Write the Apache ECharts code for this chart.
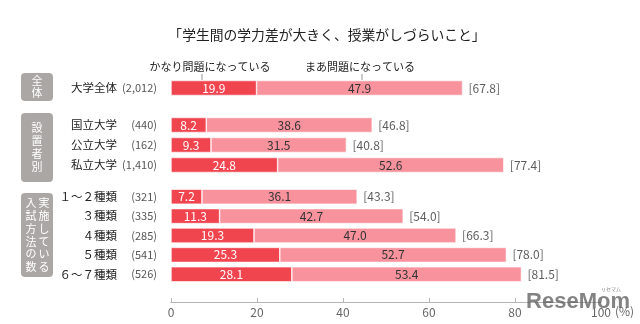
<!DOCTYPE html>
<html>
<head>
<meta charset="utf-8">
<script src="https://cdn.jsdelivr.net/npm/echarts@6/dist/echarts.min.js"></script>
<style>
  html, body { margin: 0; padding: 0; background: #fff; }
  #chart { width: 640px; height: 324px; }
</style>
</head>
<body>
<div id="chart"></div>
<script>
// Survey answers: share of faculties reporting the problem, by group
const titleText = '「学生間の学力差が大きく、授業がしづらいこと」';
const seriesNames = ['かなり問題になっている', 'まあ問題になっている'];

// Overall
const allNames = ['大学全体'];
const allCounts = ['2,012'];
const allStrong = [19.9];
const allSome = [47.9];
const allTotal = [67.8];

// By founder type
const founderNames = ['国立大学', '公立大学', '私立大学'];
const founderCounts = ['440', '162', '1,410'];
const founderStrong = [8.2, 9.3, 24.8];
const founderSome = [38.6, 31.5, 52.6];
const founderTotal = [46.8, 40.8, 77.4];

// By number of admission methods used
const methodNames = ['１～２種類', '３種類', '４種類', '５種類', '６～７種類'];
const methodCounts = ['321', '335', '285', '541', '526'];
const methodStrong = [7.2, 11.3, 19.3, 25.3, 28.1];
const methodSome = [36.1, 42.7, 47.0, 52.7, 53.4];
const methodTotal = [43.3, 54.0, 66.3, 78.0, 81.5];

const xTicks = [0, 20, 40, 60, 80, 100];

const groups = [
  { names: allNames, counts: allCounts, strong: allStrong, some: allSome, total: allTotal, top: 78, height: 20 },
  { names: founderNames, counts: founderCounts, strong: founderStrong, some: founderSome, total: founderTotal, top: 115, height: 60 },
  { names: methodNames, counts: methodCounts, strong: methodStrong, some: methodSome, total: methodTotal, top: 187, height: 97 }
];

const FONT = '"Noto Sans CJK JP", "Noto Sans", sans-serif';
const RED = '#f0444f';
const PINK = '#f8939e';

const grid = [], xAxis = [], yAxis = [], series = [];
groups.forEach((g, i) => {
  const last = i === groups.length - 1;
  grid.push({ left: 171, width: 430, top: g.top, height: g.height });
  xAxis.push({
    gridIndex: i, type: 'value', min: 0, max: 100, interval: 20,
    show: last, offset: last ? 18 : 0,
    name: last ? '(%)' : '', nameLocation: 'end', nameGap: 10,
    nameTextStyle: { color: '#666', fontSize: 12, fontFamily: FONT, verticalAlign: 'top', padding: [3, 0, 0, 0] },
    axisLine: { show: true, lineStyle: { color: '#b5b5b5', width: 1 } },
    axisTick: { show: true, inside: true, length: 4, lineStyle: { color: '#b5b5b5' } },
    axisLabel: { color: '#666', fontSize: 12, fontFamily: FONT, margin: 4,
                 customValues: xTicks },
    splitLine: { show: false }
  });
  yAxis.push({
    gridIndex: i, type: 'category', inverse: true, data: g.names,
    axisLine: { show: false }, axisTick: { show: false },
    axisLabel: {
      margin: 14, fontFamily: FONT,
      formatter: (v, idx) => '{n|' + v + '}{c|(' + g.counts[idx] + ')}',
      rich: {
        n: { fontSize: 11.5, color: '#222', fontFamily: FONT },
        c: { fontSize: 11, color: '#555', fontFamily: FONT, width: 40, align: 'right' }
      }
    }
  });
  const stackId = 'g' + i;
  series.push({
    name: seriesNames[0], type: 'bar', stack: stackId, xAxisIndex: i, yAxisIndex: i,
    data: g.strong, barWidth: 15,
    itemStyle: { color: RED, borderColor: '#fff', borderWidth: 0.6 },
    label: { show: true, position: 'inside', color: '#fff', fontSize: 12, fontFamily: FONT,
             formatter: p => p.value.toFixed(1) }
  });
  series.push({
    name: seriesNames[1], type: 'bar', stack: stackId, xAxisIndex: i, yAxisIndex: i,
    data: g.some, barWidth: 15,
    itemStyle: { color: PINK, borderColor: '#fff', borderWidth: 0.6 },
    label: { show: true, position: 'inside', color: '#333', fontSize: 12, fontFamily: FONT,
             formatter: p => p.value.toFixed(1) }
  });
  // bracketed totals placed at the end of each stacked bar
  series.push({
    type: 'scatter', xAxisIndex: i, yAxisIndex: i, symbolSize: 0, silent: true,
    data: g.total.map((t, k) => [t, k]),
    label: { show: true, position: 'right', distance: 6, color: '#333', fontSize: 12, fontFamily: FONT,
             formatter: p => '[' + p.value[0].toFixed(1) + ']' }
  });
});

// grey side tabs naming each block of rows
function tab(x, y, w, h, columns) {
  const children = [{ type: 'rect', shape: { x: x, y: y, width: w, height: h, r: 4 }, style: { fill: '#aaa7a4' } }];
  columns.forEach(col => {
    children.push({
      type: 'text', x: col.cx, y: y + h / 2,
      style: { text: col.text.split('').join('\n'), fill: '#fff', fontSize: 11, fontFamily: FONT,
               lineHeight: col.lh, align: 'center', verticalAlign: 'middle' }
    });
  });
  return { type: 'group', children: children };
}

const graphic = [
  { type: 'text', x: 327, y: 35,
    style: { text: titleText, fill: '#222', fontSize: 13.8, fontFamily: FONT, align: 'center', verticalAlign: 'middle' } },
  { type: 'text', x: 210, y: 67, style: { text: seriesNames[0], fill: '#222', fontSize: 11, fontFamily: FONT, align: 'center', verticalAlign: 'middle' } },
  { type: 'line', shape: { x1: 202, y1: 74, x2: 202, y2: 80 }, style: { stroke: '#999', lineWidth: 1 } },
  { type: 'text', x: 360, y: 67, style: { text: seriesNames[1], fill: '#222', fontSize: 11, fontFamily: FONT, align: 'center', verticalAlign: 'middle' } },
  { type: 'line', shape: { x1: 362, y1: 74, x2: 362, y2: 80 }, style: { stroke: '#999', lineWidth: 1 } },
  tab(21, 73, 32, 28, [{ cx: 37, text: '全体', lh: 12 }]),
  tab(21, 113, 32, 69, [{ cx: 37, text: '設置者別', lh: 13 }]),
  tab(21, 193, 32, 84, [{ cx: 44, text: '実施している', lh: 12.7 }, { cx: 31, text: '入試方法の数', lh: 12.7 }]),
  // site mark in the lower right corner
  { type: 'text', x: 578, y: 302, z: 100,
    style: { text: 'ReseMom', fill: 'rgba(90,90,90,0.75)', fontSize: 22, fontWeight: 'bold',
             fontFamily: '"Liberation Sans", Arial, sans-serif', align: 'center', verticalAlign: 'middle' } },
  { type: 'text', x: 611, y: 289, z: 100,
    style: { text: 'リセマム', fill: 'rgba(90,90,90,0.75)', fontSize: 5, fontFamily: FONT, align: 'center', verticalAlign: 'middle' } }
];

const chart = echarts.init(document.getElementById('chart'), null, { renderer: 'canvas' });
chart.setOption({
  backgroundColor: '#fff',
  animation: false,
  grid: grid,
  xAxis: xAxis,
  yAxis: yAxis,
  series: series,
  graphic: graphic
});
</script>
</body>
</html>
